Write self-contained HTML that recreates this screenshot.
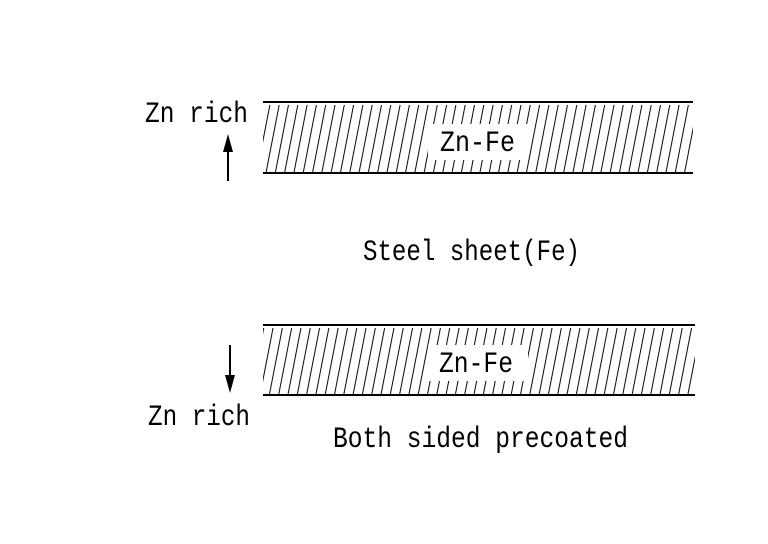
<!DOCTYPE html>
<html><head><style>html,body{margin:0;padding:0;background:#fff}svg{display:block}</style></head>
<body>
<svg width="768" height="544" viewBox="0 0 768 544" xmlns="http://www.w3.org/2000/svg">
<defs>
<pattern id="h" patternUnits="userSpaceOnUse" width="9.3" height="10" patternTransform="skewX(-11)">
<line x1="2" y1="0" x2="2" y2="10" stroke="#000" stroke-width="1"/>
</pattern>
</defs>
<rect width="768" height="544" fill="#fff"/>
<rect x="263" y="105" width="430" height="67" fill="url(#h)"/>
<rect x="428" y="124" width="100" height="36" fill="#fff"/>
<line x1="263" y1="102" x2="693" y2="102" stroke="#000" stroke-width="2"/>
<line x1="263" y1="173" x2="693" y2="173" stroke="#000" stroke-width="2"/>
<rect x="263" y="328" width="432" height="66" fill="url(#h)"/>
<rect x="428" y="345" width="100" height="36" fill="#fff"/>
<line x1="263" y1="325" x2="695" y2="325" stroke="#000" stroke-width="2"/>
<line x1="263" y1="395" x2="695" y2="395" stroke="#000" stroke-width="2"/>
<line x1="228" y1="181" x2="228" y2="150" stroke="#000" stroke-width="2"/>
<polygon points="228,134 223,152 233,152" fill="#000"/>
<line x1="230" y1="345" x2="230" y2="376" stroke="#000" stroke-width="2"/>
<polygon points="230,393 225,375 235,375" fill="#000"/>
<g font-family="Liberation Mono, monospace" font-size="30" fill="#000">
<text x="145" y="122" textLength="103" lengthAdjust="spacingAndGlyphs">Zn rich</text>
<text x="440" y="151" textLength="75" lengthAdjust="spacingAndGlyphs">Zn-Fe</text>
<text x="363" y="260" textLength="217" lengthAdjust="spacingAndGlyphs">Steel sheet(Fe)</text>
<text x="439" y="372" textLength="74" lengthAdjust="spacingAndGlyphs">Zn-Fe</text>
<text x="148" y="425" textLength="102" lengthAdjust="spacingAndGlyphs">Zn rich</text>
<text x="333" y="447" textLength="295" lengthAdjust="spacingAndGlyphs">Both sided precoated</text>
</g>
</svg>
</body></html>
